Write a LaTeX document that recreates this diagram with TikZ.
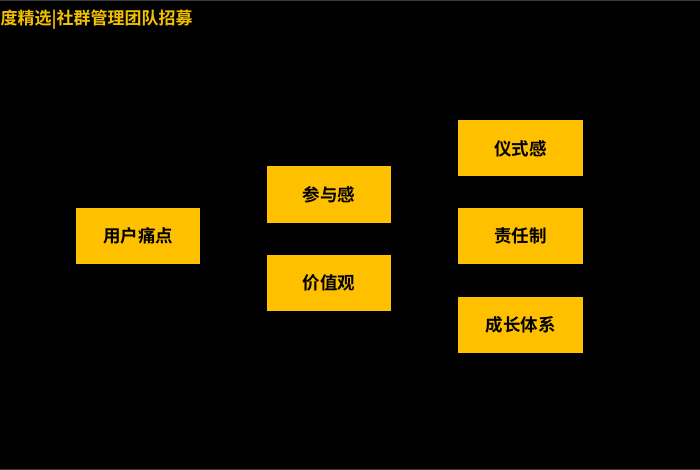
\documentclass[tikz,border=0pt]{standalone}
\usepackage{fontspec}
\newfontfamily\cjk{Noto Sans CJK SC}[BoldFont={Noto Sans CJK SC Bold}]
\definecolor{boxgold}{HTML}{FFC000}
\definecolor{titlegold}{HTML}{F2C200}
\definecolor{edgegray}{HTML}{3A3A3A}
\tikzset{
  box/.style={fill=boxgold, draw=none, minimum width=124pt, minimum height=56pt,
    inner sep=0pt, font=\cjk\bfseries\fontsize{17.5}{17.5}\selectfont, text=black},
  titletext/.style={font=\cjk\bfseries\fontsize{17}{17}\selectfont, text=titlegold, inner sep=0pt}
}
\begin{document}
\begin{tikzpicture}[x=1pt,y=-1pt]
\fill[black] (0,0) rectangle (700,470);
\useasboundingbox (0,0) rectangle (700,470);
\draw[edgegray, line width=1pt] (0,0.5) -- (700,0.5);
\draw[edgegray, line width=1pt] (0,469.5) -- (700,469.5);
\node[titletext, anchor=west] (title) at (0.5,19.5) {度精选|社群管理团队招募};
\node[box] (pain) at (138,236) {用户痛点};
\node[box] (join) at (329,194.5) {参与感};
\node[box] (value) at (329,282.5) {价值观};
\node[box, minimum width=125pt] (ritual) at (520.5,148.5) {仪式感};
\node[box, minimum width=125pt] (duty) at (520.5,236) {责任制};
\node[box, minimum width=125pt] (growth) at (520.5,325) {成长体系};
\end{tikzpicture}
\end{document}
